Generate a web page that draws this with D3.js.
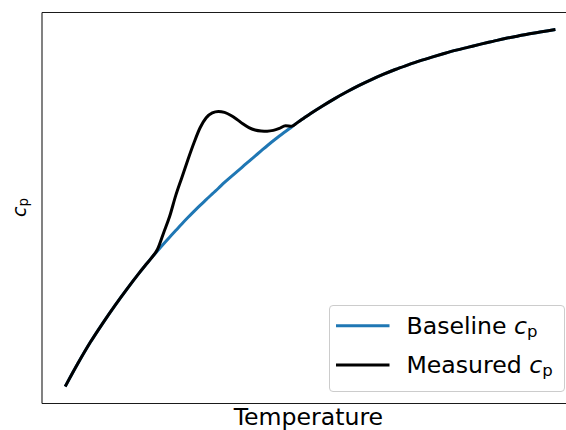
<!DOCTYPE html>
<html>
<head>
<meta charset="utf-8">
<script src="https://cdn.jsdelivr.net/npm/d3@7"></script>
<style>
  html, body { margin: 0; padding: 0; background: #fff; }
  svg { display: block; font-family: "DejaVu Sans", sans-serif; }
</style>
</head>
<body>
<svg id="chart" width="566" height="430"></svg>
<script>
// Temperature grid (finer steps through the transition region)
const temperature = [
  20, 22.5, 25, 27.5, 30, 32.5, 35,
  36.25, 37.5, 38.75, 40, 41.25, 42.5, 43.75, 45, 46.25, 47.5, 48.75,
  50, 51.25, 52.5, 53.75, 55, 56.25, 57.5, 58.75, 60, 61.25, 62.5,
  63.75, 65, 66.25, 67.5, 68.75, 70,
  72.5, 75, 77.5, 80, 82.5, 85, 87.5, 90, 92.5, 95, 97.5, 100,
  102.5, 105, 107.5, 110, 112.5, 115, 117.5, 120
];

// Baseline heat capacity (no transition)
const baselineCp = [
  1.000, 1.111, 1.215, 1.309, 1.398, 1.482, 1.562,
  1.600, 1.637, 1.673, 1.708, 1.742, 1.775, 1.808, 1.840, 1.871, 1.901, 1.930,
  1.959, 1.987, 2.016, 2.043, 2.069, 2.095, 2.122, 2.148, 2.174, 2.200, 2.225,
  2.249, 2.271, 2.294, 2.317, 2.338, 2.359,
  2.398, 2.435, 2.469, 2.501, 2.530, 2.557, 2.582, 2.604, 2.625, 2.644, 2.662, 2.679,
  2.694, 2.709, 2.723, 2.737, 2.749, 2.761, 2.771, 2.781
];

// Measured heat capacity, with the transition peak
const measuredCp = [
  1.000, 1.111, 1.215, 1.309, 1.398, 1.482, 1.562,
  1.600, 1.637, 1.680, 1.762, 1.845, 1.950, 2.040, 2.130, 2.215, 2.290, 2.340,
  2.365, 2.372, 2.367, 2.353, 2.333, 2.310, 2.291, 2.279, 2.274, 2.273, 2.277,
  2.287, 2.300, 2.297, 2.317, 2.338, 2.359,
  2.398, 2.435, 2.469, 2.501, 2.530, 2.557, 2.582, 2.604, 2.625, 2.644, 2.662, 2.679,
  2.694, 2.709, 2.723, 2.737, 2.749, 2.761, 2.771, 2.781
];

const seriesNames = ["Baseline", "Measured"];
const seriesColors = ["#1f77b4", "#000000"];

const svg = d3.select("#chart");
const box = { left: 41.5, right: 578.3, top: 12, bottom: 403 };

// Axis limits padded by 5% of the data span on each side
const [tMin, tMax] = d3.extent(temperature);
const tPad = 0.05 * (tMax - tMin);
const allCp = baselineCp.concat(measuredCp);
const [cMin, cMax] = d3.extent(allCp);
const cPad = 0.05 * (cMax - cMin);

const x = d3.scaleLinear().domain([tMin - tPad, tMax + tPad]).range([box.left, box.right]);
const y = d3.scaleLinear().domain([cMin - cPad, cMax + cPad]).range([box.bottom, box.top]);

// Frame: axes without ticks
const spine = g => g.call(s => s.selectAll(".domain").attr("stroke", "#1a1a1a").attr("stroke-width", 1.1));
svg.append("g").attr("transform", `translate(0,${box.bottom})`)
  .call(d3.axisBottom(x).tickValues([]).tickSizeOuter(0)).call(spine);
svg.append("g").attr("transform", `translate(0,${box.top})`)
  .call(d3.axisTop(x).tickValues([]).tickSizeOuter(0)).call(spine);
svg.append("g").attr("transform", `translate(${box.left},0)`)
  .call(d3.axisLeft(y).tickValues([]).tickSizeOuter(0)).call(spine);

const line = d3.line()
  .x(d => x(d[0]))
  .y(d => y(d[1]))
  .curve(d3.curveMonotoneX);

const series = [baselineCp, measuredCp];
series.forEach((vals, i) => {
  svg.append("path")
    .datum(temperature.map((t, k) => [t, vals[k]]))
    .attr("fill", "none")
    .attr("stroke", seriesColors[i])
    .attr("stroke-width", 3)
    .attr("stroke-linecap", "square")
    .attr("stroke-linejoin", "round")
    .attr("d", line);
});

// Axis labels
svg.append("text")
  .attr("x", (box.left + box.right) / 2 - 1.5)
  .attr("y", 425)
  .attr("text-anchor", "middle")
  .attr("font-size", "23.6px")
  .attr("fill", "#000")
  .text("Temperature");

const yl = svg.append("text")
  .attr("transform", `translate(25.5,${(box.top + box.bottom) / 2}) rotate(-90)`)
  .attr("text-anchor", "middle")
  .attr("font-size", "19px")
  .attr("fill", "#000");
yl.append("tspan").attr("font-style", "italic").text("c");
yl.append("tspan").attr("font-size", "13.3px").attr("dy", "2.4").text("p");

// Legend
const lg = svg.append("g");
lg.append("rect")
  .attr("x", 329.5).attr("y", 305.5)
  .attr("width", 235).attr("height", 86)
  .attr("rx", 3.5).attr("ry", 3.5)
  .attr("fill", "#fff").attr("fill-opacity", 0.8)
  .attr("stroke", "#cccccc").attr("stroke-width", 1);

const rowY = [325.7, 365];
seriesNames.forEach((name, i) => {
  lg.append("line")
    .attr("x1", 337.5).attr("x2", 388)
    .attr("y1", rowY[i]).attr("y2", rowY[i])
    .attr("stroke", seriesColors[i])
    .attr("stroke-width", 3)
    .attr("stroke-linecap", "square");
  const t = lg.append("text")
    .attr("x", 406.5)
    .attr("y", rowY[i] + 7.8)
    .attr("font-size", "23.6px")
    .attr("fill", "#000");
  t.append("tspan").text(name + " ");
  t.append("tspan").attr("font-style", "italic").text("c");
  t.append("tspan").attr("font-size", "16.5px").attr("dy", "3").text("p");
});
</script>
</body>
</html>
